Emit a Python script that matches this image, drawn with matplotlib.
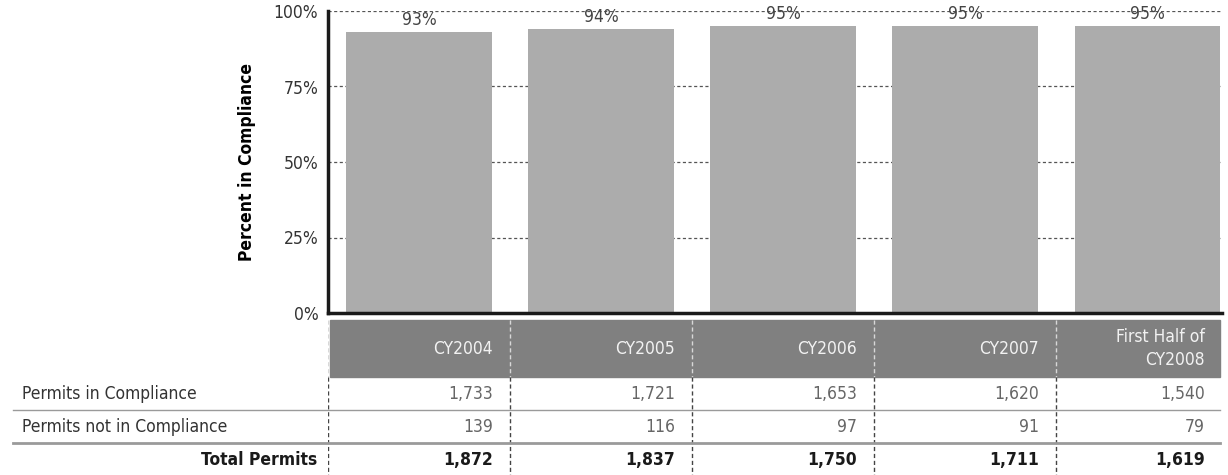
import numpy as np
import matplotlib.pyplot as plt
from matplotlib.transforms import blended_transform_factory

plt.rcParams['font.family'] = ['DejaVu Sans']
plt.rcParams['font.stretch'] = 'condensed'

years = ["CY2004", "CY2005", "CY2006", "CY2007", "First Half of\nCY2008"]
pct_compliance = [93, 94, 95, 95, 95]
in_compliance = [1733, 1721, 1653, 1620, 1540]
not_in_compliance = [139, 116, 97, 91, 79]
total_permits = [1872, 1837, 1750, 1711, 1619]
row_names = ["Permits in Compliance", "Permits not in Compliance", "Total Permits"]

W, H = 1228, 475
fig = plt.figure(figsize=(W / 100, H / 100), dpi=100)

def px_box(x0, y0, x1, y1):
    return [x0 / W, 1 - y1 / H, (x1 - x0) / W, (y1 - y0) / H]

x = np.arange(len(years))
xlim = (-0.5, 4.41)
FS = 12.5

# --- bar chart ---
ax = fig.add_axes(px_box(328, 11, 1222, 313))
ax.bar(x, pct_compliance, width=0.8, color="#acacac", zorder=2)
ax.set_xlim(*xlim)
ax.set_ylim(0, 100)
ax.set_yticks([0, 25, 50, 75, 100])
ax.set_yticklabels([f"{t}%" for t in [0, 25, 50, 75, 100]], fontsize=FS, color="#333333")
ax.tick_params(axis="y", length=0, pad=7)
ax.set_xticks([])
ax.grid(axis="y", linestyle=(0, (2.5, 2)), color="#555555", linewidth=0.9, zorder=1)
for s in ["top", "right"]:
    ax.spines[s].set_visible(False)
for s in ["left", "bottom"]:
    ax.spines[s].set_linewidth(2.5)
    ax.spines[s].set_color("#1a1a1a")
ax.set_ylabel("Percent in Compliance", fontsize=FS, fontweight="bold", labelpad=13)
for xi, v in zip(x, pct_compliance):
    ax.annotate(f"{v}%", (xi, v), xytext=(0, 2), textcoords="offset points",
                ha="center", va="bottom", fontsize=FS, color="#444444")

# --- data table underneath ---
tb = fig.add_axes(px_box(328, 318, 1222, 475))
tb.set_xlim(*xlim)
tb.set_ylim(475, 318)
tb.axis("off")
fig_x = blended_transform_factory(fig.transFigure, tb.transData)

hdr_top, hdr_bot = 320, 377
row_y = [394, 427, 460]
tb.axhspan(hdr_bot, hdr_top, xmin=0.002, xmax=0.998, color="#808080", zorder=1)

for b in np.arange(-0.5, 4.0, 1.0):
    tb.plot([b, b], [hdr_top, hdr_bot], color="#d8d8d8", lw=1, ls=(0, (3, 2)), zorder=2)
    tb.plot([b, b], [hdr_bot, 475], color="#444444", lw=1, ls=(0, (3, 2)), zorder=2)

for sep_y, lw in [(410, 1.0), (443, 2.0)]:
    tb.plot([13 / W, 1220 / W], [sep_y, sep_y], transform=fig_x,
            color="#9a9a9a", lw=lw, clip_on=False)

# right edge of each table column, text sits a little inside it
col_right = list(x[:-1] + 0.5) + [xlim[1]]
right_off = 0.095
for cr, lab in zip(col_right, years):
    tb.text(cr - right_off, (hdr_top + hdr_bot) / 2, lab, ha="right", va="center",
            fontsize=FS, color="#f2f2f2", linespacing=1.3)

rows = [in_compliance, not_in_compliance, total_permits]
for r, (name, vals) in enumerate(zip(row_names, rows)):
    bold = r == 2
    if bold:
        tb.text(317 / W, row_y[r], name, transform=fig_x, ha="right", va="center",
                fontsize=FS, fontweight="bold", color="#1a1a1a", clip_on=False)
    else:
        tb.text(22 / W, row_y[r], name, transform=fig_x, ha="left", va="center",
                fontsize=FS, color="#333333", clip_on=False)
    for cr, v in zip(col_right, vals):
        tb.text(cr - right_off, row_y[r], f"{v:,}", ha="right", va="center",
                fontsize=FS, fontweight="bold" if bold else "normal",
                color="#1a1a1a" if bold else "#666666")

fig.savefig("out.png", dpi=100)
